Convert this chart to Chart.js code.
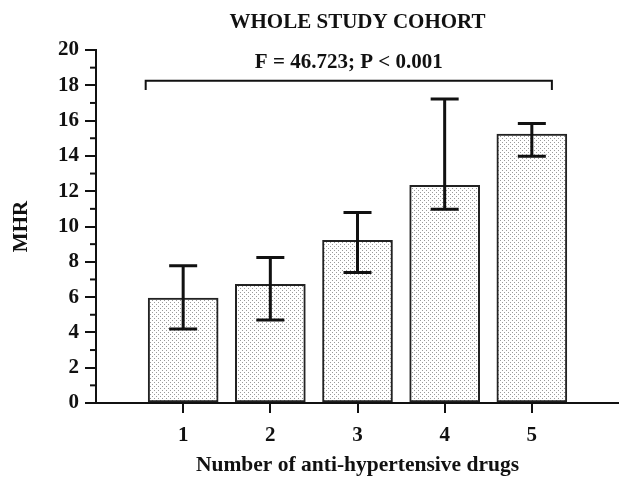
<!DOCTYPE html>
<html>
<head>
<meta charset="utf-8">
<script src="https://cdn.jsdelivr.net/npm/chart.js@4/dist/chart.umd.min.js"></script>
<style>
  body { margin: 0; background: #fff; }
  canvas { display: block; }
</style>
</head>
<body>
<canvas id="mhrChart" width="619" height="478"></canvas>
<script>
// values
const drugCounts = [1, 2, 3, 4, 5];
const mhrMeans = [5.95, 6.72, 9.22, 12.33, 15.24];
const errUpper = [7.78, 8.24, 10.8, 17.23, 15.84];
const errLower = [4.19, 4.70, 7.40, 10.98, 13.98];
const yMajorTicks = [0, 2, 4, 6, 8, 10, 12, 14, 16, 18, 20];
const yMinorTicks = [1, 3, 5, 7, 9, 11, 13, 15, 17, 19];
const statText = "F = 46.723; P < 0.001";
const bracketSpan = [0.57, 5.23];
const bracketLevel = 18.26;
const bracketDrop = 17.73;

const serif = "'Liberation Serif', 'Times New Roman', serif";

// dotted fill like the original bars
function makeDots() {
  const c = document.createElement("canvas");
  c.width = 4;
  c.height = 4;
  const g = c.getContext("2d");
  g.fillStyle = "#fff";
  g.fillRect(0, 0, 4, 4);
  g.fillStyle = "#9a9a9a";
  g.fillRect(0, 0, 1, 1);
  g.fillRect(2, 2, 1, 1);
  return g.createPattern(c, "repeat");
}

const extras = {
  id: "extras",
  afterDatasetsDraw(chart) {
    const ctx = chart.ctx;
    const xs = chart.scales.x;
    const ys = chart.scales.y;
    const meta = chart.getDatasetMeta(0);

    ctx.save();
    ctx.strokeStyle = "#111";
    ctx.lineCap = "butt";

    // error bars
    ctx.lineWidth = 3;
    meta.data.forEach((bar, i) => {
      const hi = ys.getPixelForValue(errUpper[i]);
      const lo = ys.getPixelForValue(errLower[i]);
      ctx.beginPath();
      ctx.moveTo(bar.x, hi);
      ctx.lineTo(bar.x, lo);
      ctx.moveTo(bar.x - 14, hi);
      ctx.lineTo(bar.x + 14, hi);
      ctx.moveTo(bar.x - 14, lo);
      ctx.lineTo(bar.x + 14, lo);
      ctx.stroke();
    });

    // minor ticks on y axis
    ctx.lineWidth = 2;
    yMinorTicks.forEach(v => {
      const y = ys.getPixelForValue(v);
      ctx.beginPath();
      ctx.moveTo(xs.left - 6, y);
      ctx.lineTo(xs.left, y);
      ctx.stroke();
    });

    // bracket + statistic
    const bx1 = xs.getPixelForValue(bracketSpan[0]);
    const bx2 = xs.getPixelForValue(bracketSpan[1]);
    const by = ys.getPixelForValue(bracketLevel);
    const bd = ys.getPixelForValue(bracketDrop);
    ctx.lineWidth = 2;
    ctx.beginPath();
    ctx.moveTo(bx1, bd);
    ctx.lineTo(bx1, by);
    ctx.lineTo(bx2, by);
    ctx.lineTo(bx2, bd);
    ctx.stroke();

    ctx.fillStyle = "#111";
    ctx.font = "bold 21px " + serif;
    ctx.textAlign = "center";
    ctx.textBaseline = "alphabetic";
    ctx.fillText(statText, (bx1 + bx2) / 2, by - 13);

    // title
    ctx.font = "bold 21px " + serif;
    ctx.fillText("WHOLE STUDY COHORT", (xs.left + xs.right) / 2, 28);
    ctx.restore();
  }
};

new Chart(document.getElementById("mhrChart"), {
  type: "bar",
  data: {
    datasets: [{
      data: drugCounts.map((d, i) => ({ x: d, y: mhrMeans[i] })),
      backgroundColor: makeDots(),
      borderColor: "#222",
      borderWidth: 2,
      borderSkipped: false,
      barThickness: 70
    }]
  },
  options: {
    responsive: false,
    animation: false,
    layout: { padding: { top: 50, right: 0, left: 0, bottom: 0 } },
    plugins: { legend: { display: false }, tooltip: { enabled: false } },
    scales: {
      x: {
        type: "linear",
        min: 0,
        max: 6,
        offset: false,
        afterFit(scale) {
          scale.height = 75;
          scale.paddingLeft = 0;
          scale.paddingRight = 0;
        },
        afterBuildTicks(scale) { scale.ticks = [0, 1, 2, 3, 4, 5, 6].map(v => ({ value: v })); },
        border: { color: "#111", width: 2 },
        grid: {
          offset: false,
          drawOnChartArea: false,
          tickLength: 10,
          lineWidth: 2,
          color: c => (c.tick && c.tick.value >= 1 && c.tick.value <= 5) ? "#111" : "rgba(0,0,0,0)"
        },
        ticks: {
          color: "#111",
          padding: 10,
          maxRotation: 0,
          font: { family: serif, size: 21, weight: "bold" },
          callback: v => (v >= 1 && v <= 5) ? String(v) : ""
        },
        title: {
          display: true,
          text: "Number of anti-hypertensive drugs",
          color: "#111",
          padding: { top: 0, bottom: 0 },
          font: { family: serif, size: 21.5, weight: "bold" }
        }
      },
      y: {
        min: 0,
        max: 20,
        afterFit(scale) { scale.width = 96; },
        afterBuildTicks(scale) { scale.ticks = yMajorTicks.map(v => ({ value: v })); },
        border: { color: "#111", width: 2 },
        grid: { drawOnChartArea: false, tickLength: 11, lineWidth: 2, color: "#111" },
        ticks: {
          color: "#111",
          padding: 6,
          font: { family: serif, size: 21, weight: "bold" }
        },
        title: {
          display: true,
          text: "MHR",
          color: "#111",
          padding: { top: 9, bottom: 0 },
          font: { family: serif, size: 21, weight: "bold" }
        }
      }
    }
  },
  plugins: [extras]
});
</script>
</body>
</html>
